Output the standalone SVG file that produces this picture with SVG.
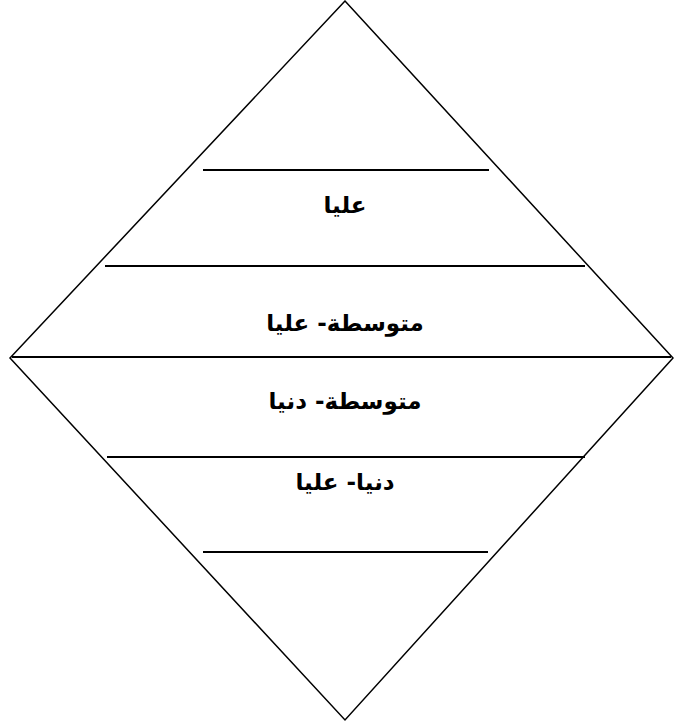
<svg xmlns="http://www.w3.org/2000/svg" width="674" height="723" viewBox="0 0 674 723">
<style>
.edge{fill:none;stroke:#000;stroke-width:1.5}
.sep{stroke:#000;stroke-width:2}
.lbl{font-family:"DejaVu Sans","Noto Sans",sans-serif;font-weight:bold;font-size:23px;fill:#000;text-anchor:middle}
</style>
<rect width="674" height="723" fill="#fff"/>
<g id="diamond">
<polygon class="edge" points="345,1 673,358 345,720 10,358"/>
</g>
<g id="connectors">
<line class="sep" x1="203" y1="170" x2="489" y2="170"/>
<line class="sep" x1="105" y1="266" x2="585" y2="266"/>
<line class="sep" x1="12" y1="357" x2="671" y2="357"/>
<line class="sep" x1="107" y1="457" x2="585" y2="457"/>
<line class="sep" x1="203" y1="552" x2="488" y2="552"/>
</g>
<g id="level1"><text class="lbl" x="345" y="213" direction="rtl">عليا</text></g>
<g id="level2"><text class="lbl" x="345" y="331" direction="rtl">متوسطة- عليا</text></g>
<g id="level3"><text class="lbl" x="345" y="409" direction="rtl">متوسطة- دنيا</text></g>
<g id="level4"><text class="lbl" x="345" y="490" direction="rtl">دنيا- عليا</text></g>
</svg>
